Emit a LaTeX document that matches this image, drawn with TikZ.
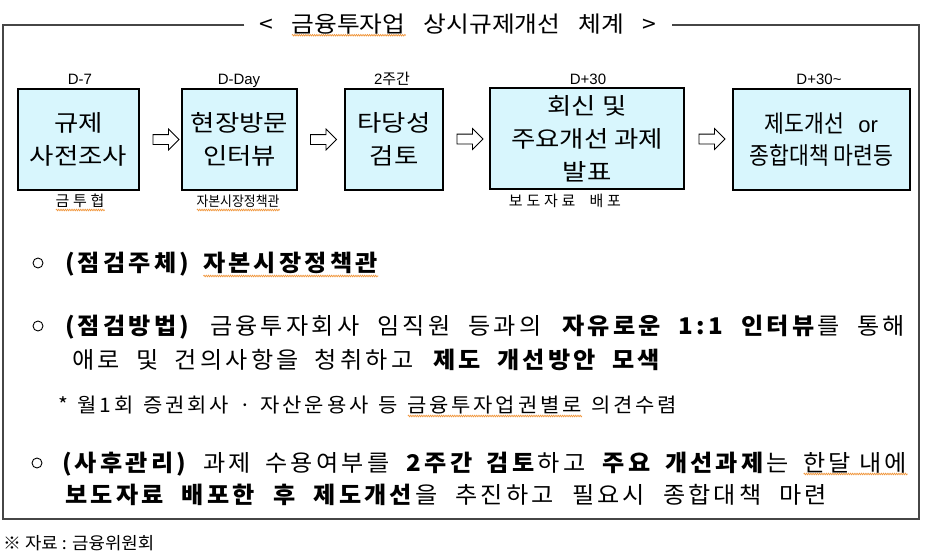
\documentclass[tikz,border=0pt]{standalone}
\usepackage{fontspec}
\setmainfont{Noto Sans CJK KR}
\newfontfamily\lat{Liberation Sans}
\newfontfamily\krbox[FakeStretch=1.15]{Noto Sans CJK KR}
\newfontfamily\krboxc[FakeStretch=0.9]{Noto Sans CJK KR}
\newfontfamily\krtitle[FakeStretch=1.1]{Noto Sans CJK KR}
\newfontfamily\krbody[FakeStretch=1.05,LetterSpace=14]{Noto Sans CJK KR}
\newfontfamily\krsrc[FakeStretch=1.05]{Noto Sans CJK KR}
\newfontfamily\krwide[LetterSpace=25]{Noto Sans CJK KR}
\usetikzlibrary{shapes.arrows,calc,decorations.pathmorphing}
\definecolor{boxfill}{RGB}{216,246,253}
\definecolor{framec}{RGB}{70,70,70}
\definecolor{squig}{RGB}{240,150,60}
\newcommand\boxfont{\krbox\fontsize{23}{33}\selectfont}
\newcommand\bodyfont{\krbody\fontsize{23}{23}\selectfont}
\newcommand\footfont{\krbody\fontsize{20}{20}\selectfont}
\tikzset{
 stepbox/.style={draw=black, line width=2pt, fill=boxfill, inner sep=0pt, align=center, font=\boxfont},
 blockarr/.style={single arrow, draw=black, fill=white, line width=0.8pt, minimum height=26pt, inner xsep=0pt, inner ysep=4.5pt, single arrow head extend=5.5pt},
 daylbl/.style={font=\lat\fontsize{15}{15}\selectfont, inner sep=0pt, anchor=base},
 sublbl/.style={inner sep=0pt, anchor=base},
 txt/.style={anchor=base west, inner sep=0pt},
 bul/.style={draw=black, circle, line width=0.9pt, minimum size=10pt, inner sep=0pt},
 squiggle/.style={draw=squig, line width=0.7pt, decorate, decoration={snake, segment length=2.2pt, amplitude=0.8pt}},
}
% wavy spell-check underline under a piece of text
\newsavebox\sqbox
\newcommand\sq[2][4pt]{\sbox\sqbox{#2}\rlap{\tikz[baseline=0pt]\draw[squiggle] (0pt,-#1) -- (\wd\sqbox,-#1);}\usebox\sqbox}
% set a line to an exact width: spread its spaces, or squeeze it if too long
\newsavebox\fitbox
\newcommand\fitline[2]{\sbox\fitbox{#2}\ifdim\wd\fitbox>#1\relax\pgfmathsetmacro\fitr{#1/\the\wd\fitbox}\scalebox{\fitr}[1]{\usebox\fitbox}\else\makebox[#1][s]{#2}\fi}
\newcommand\pl{(\kern3pt}
\newcommand\pr{\kern3pt)}
\begin{document}
\begin{tikzpicture}[x=1pt,y=-1pt]
\useasboundingbox (0,0) rectangle (925,554);
% title and frame
\node[inner sep=0pt, font=\krtitle\fontsize{22.5}{22.5}\selectfont] (title) at (458,25) {\fitline{397pt}{< \sq[3pt]{금융투자업} 상시규제개선 체계 >}};
\draw[framec, line width=1.2pt] ([xshift=-15pt]title.west) -- (3,25) -- (3,519) -- (919,519) -- (919,25) -- ([xshift=15pt]title.east);
% step boxes
\node[stepbox, minimum width=121pt, minimum height=101pt] (b1) at (78.5,139.5) {규제\\사전조사};
\node[stepbox, minimum width=115pt, minimum height=101pt] (b2) at (239.5,139.5) {현장방문\\인터뷰};
\node[stepbox, minimum width=98pt, minimum height=101pt] (b3) at (394,139.5) {타당성\\검토};
\node[stepbox, minimum width=194pt, minimum height=101pt] (b4) at (587,138.5) {회신 및\\주요개선 과제\\발표};
\node[stepbox, minimum width=177pt, minimum height=101pt, font=\krboxc\fontsize{24}{32}\selectfont] (b5) at (821.5,139.5) {제도개선\hspace{14pt}{\lat\fontsize{22}{22}\selectfont or}\\종합대책 마련등};
% labels above
\node[daylbl] (d1) at (80,84) {D-7};
\node[daylbl] (d2) at (239,84) {D-Day};
\node[sublbl, font=\fontsize{15}{15}\selectfont] (d3) at (392,84) {{\lat 2}주간};
\node[daylbl] (d4) at (588,84) {D+30};
\node[daylbl] (d5) at (819,84) {D+30\textasciitilde};
% labels below
\node[sublbl, font=\krwide\fontsize{15}{15}\selectfont] (u1) at (80,206) {\sq{금투협}};
\node[sublbl, font=\fontsize{14}{14}\selectfont] (u2) at (238,206) {\sq{\scalebox{0.92}[1]{자본시장정책관}}};
\node[sublbl, font=\krwide\fontsize{15}{15}\selectfont] (u4) at (565,206) {보도자료 \ 배포};
% block arrows
\node[blockarr] (a1) at ($(b1.east)!0.5!(b2.west)+(3,0)$) {};
\node[blockarr] (a2) at ($(b2.east)!0.5!(b3.west)$) {};
\node[blockarr] (a3) at ($(b3.east)!0.5!(b4.west)+(1,0)$) {};
\node[blockarr] (a4) at ($(b4.east)!0.5!(b5.west)+(1,0)$) {};
% bullets
\node[bul] (c1) at (38,263) {};
\node[bul] (c2) at (38,326) {};
\node[bul] (c3) at (37,463) {};
\node[txt] (la) at (65,271) {\bodyfont\bfseries \pl 점검주체\pr\hspace{14pt}\sq[5pt]{자본시장정책관}};
\node[txt] (lb1) at (65,334) {\bodyfont\fitline{840pt}{\textbf{\pl 점검방법\pr} 금융투자회사 임직원 등과의 \textbf{자유로운 1:1 인터뷰}를 통해}};
\node[txt] (lb2) at (72,368) {\bodyfont\fitline{591pt}{애로 및 건의사항을 청취하고 \textbf{제도 개선방안 모색}}};
\node[txt] (fn) at (58,412) {\footfont\fitline{619pt}{* 월1회 증권회사 · 자산운용사 등 \sq{금융투자업권별로} 의견수렴}};
\node[txt] (lc1) at (62,471) {\bodyfont\fitline{845pt}{\textbf{\pl 사후관리\pr} 과제 수용여부를 \textbf{2주간 검토}하고 \textbf{주요 개선과제}는 \sq[3pt]{한달 내에}}};
\node[txt] (lc2) at (65,503) {\bodyfont\fitline{762pt}{\textbf{보도자료 배포한 후 제도개선}을 추진하고 필요시 종합대책 마련}};
\node[txt] (src) at (3,549) {\krsrc\fontsize{17}{17}\selectfont ※ 자료 : 금융위원회};
\end{tikzpicture}
\end{document}
